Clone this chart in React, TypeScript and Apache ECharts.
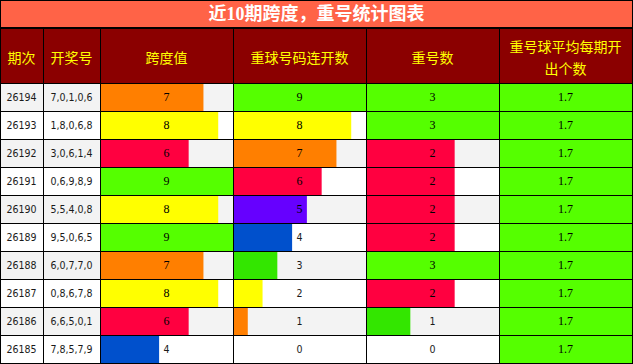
import React, { useEffect, useRef } from 'react';
import * as echarts from 'echarts';

// ---------- data ----------
const titleText = '近10期跨度，重号统计图表';
const headers = ['期次', '开奖号', '跨度值', '重球号码连开数', '重号数', '重号球平均每期开\n出个数'];
const periods = ['26194', '26193', '26192', '26191', '26190', '26189', '26188', '26187', '26186', '26185'];
const draws = ['7,0,1,0,6', '1,8,0,6,8', '3,0,6,1,4', '0,6,9,8,9', '5,5,4,0,8', '9,5,0,6,5', '6,0,7,7,0', '0,8,6,7,8', '6,6,5,0,1', '7,8,5,7,9'];
const spans = [7, 8, 6, 9, 8, 9, 7, 8, 6, 4];
const repeatRuns = [9, 8, 7, 6, 5, 4, 3, 2, 1, 0];
const repeatCounts = [3, 3, 2, 2, 2, 2, 3, 2, 1, 0];
const avgRepeat = [1.7, 1.7, 1.7, 1.7, 1.7, 1.7, 1.7, 1.7, 1.7, 1.7];

// ---------- styles ----------
const GREEN = '#55FF00';
const DGREEN = '#33E600';
const YELLOW = '#FFFF00';
const ORANGE = '#FF7F00';
const RED = '#FF0040';
const PURPLE = '#6600FF';
const BLUE = '#0050CC';
const spanColors = [ORANGE, YELLOW, RED, GREEN, YELLOW, GREEN, ORANGE, YELLOW, RED, BLUE];
const runColors = [GREEN, YELLOW, ORANGE, RED, PURPLE, BLUE, DGREEN, YELLOW, ORANGE, GREEN];
const countColors = [GREEN, GREEN, RED, RED, RED, RED, GREEN, RED, DGREEN, GREEN];
const avgColors = avgRepeat.map(() => GREEN);

const W = 633;
const H = 364;
const COL_X = [0, 43, 100, 233, 366, 499, 632];
const DATA_TOP = 83;
const DATA_H = 280;
const SANS = '"DejaVu Sans Condensed", "DejaVu Sans", sans-serif';
const SANS_SIZE = 10.5;
const SERIF = '"Liberation Serif", serif';
const CJK = '"Noto Sans CJK SC", sans-serif';

export default function App() {
  const ref = useRef<HTMLDivElement>(null);
  useEffect(() => {
    document.body.style.margin = '0';
    if (!ref.current) return;
    const chart = echarts.init(ref.current, null, { renderer: 'svg' });

    const columns: any[] = [
      { kind: 'text', texts: periods, max: 1 },
      { kind: 'text', texts: draws, max: 1 },
      { kind: 'bar', values: spans, colors: spanColors, max: 9 },
      { kind: 'bar', values: repeatRuns, colors: runColors, max: 9 },
      { kind: 'bar', values: repeatCounts, colors: countColors, max: 3 },
      { kind: 'bar', values: avgRepeat, colors: avgColors, max: 1.7 },
    ];

    const grid: any[] = [];
    const xAxis: any[] = [];
    const yAxis: any[] = [];
    const series: any[] = [];

    columns.forEach((col, i) => {
      grid.push({
        left: COL_X[i],
        top: DATA_TOP,
        width: COL_X[i + 1] - COL_X[i],
        height: DATA_H,
        containLabel: false,
      });
      xAxis.push({ type: 'value', gridIndex: i, min: 0, max: col.max, show: false });
      xAxis.push({
        type: 'value', gridIndex: i, min: 0, max: col.max, interval: col.max, z: 10,
        axisLine: { show: false }, axisTick: { show: false }, axisLabel: { show: false },
        splitLine: { show: true, lineStyle: { color: '#000', width: 1 } },
      });
      yAxis.push({
        type: 'category', gridIndex: i, inverse: true, data: periods,
        axisLine: { show: false }, axisTick: { show: false }, axisLabel: { show: false },
        splitLine: { show: false },
        splitArea: { show: true, areaStyle: { color: ['#F3F3F3', '#FFFFFF'] } },
      });
      yAxis.push({
        type: 'category', gridIndex: i, inverse: true, data: periods, z: 10,
        axisLine: { show: false }, axisTick: { show: false }, axisLabel: { show: false },
        splitLine: { show: true, lineStyle: { color: '#000', width: 1 } },
        splitArea: { show: false },
      });

      if (col.kind === 'text') {
        series.push({
          type: 'bar', xAxisIndex: 2 * i, yAxisIndex: 2 * i, silent: true,
          barWidth: '100%', z: 3,
          data: col.texts.map(() => col.max),
          itemStyle: { color: 'rgba(0,0,0,0)' },
          label: {
            show: true, position: 'inside', color: '#1a1a1a', fontFamily: SANS, fontSize: SANS_SIZE,
            formatter: (p: any) => col.texts[p.dataIndex],
          },
        });
      } else {
        series.push({
          type: 'bar', xAxisIndex: 2 * i, yAxisIndex: 2 * i, silent: true,
          barWidth: '100%', barGap: '-100%', z: 2,
          data: col.values.map((v: number, j: number) => ({ value: v, itemStyle: { color: col.colors[j] } })),
        });
        series.push({
          type: 'bar', xAxisIndex: 2 * i, yAxisIndex: 2 * i, silent: true,
          barWidth: '100%', barGap: '-100%', z: 3,
          data: col.values.map((v: number) => {
            const over = v >= col.max / 2;
            return {
              value: col.max,
              label: over
                ? { fontFamily: SERIF, fontSize: 12, color: '#000' }
                : { fontFamily: SANS, fontSize: SANS_SIZE, color: '#1a1a1a' },
            };
          }),
          itemStyle: { color: 'rgba(0,0,0,0)' },
          label: {
            show: true, position: 'inside',
            formatter: (p: any) => String(col.values[p.dataIndex]),
          },
        });
      }
    });

    const graphic: any[] = [
      { type: 'rect', shape: { x: 0, y: 0, width: W, height: 27 }, style: { fill: '#FF6347' }, z: 50 },
      { type: 'rect', shape: { x: 0, y: 27, width: W, height: 2 }, style: { fill: '#000' }, z: 52 },
      { type: 'rect', shape: { x: 0, y: 29, width: W, height: DATA_TOP - 29 }, style: { fill: '#8B0000' }, z: 50 },
      { type: 'rect', shape: { x: 0, y: 0, width: W, height: 1 }, style: { fill: '#000' }, z: 52 },
      { type: 'rect', shape: { x: 0, y: 0, width: 1, height: H }, style: { fill: '#000' }, z: 52 },
      { type: 'rect', shape: { x: 632, y: 0, width: 1, height: H }, style: { fill: '#000' }, z: 52 },
      {
        type: 'text', x: W / 2, y: 14, z: 53,
        style: {
          text: titleText, fill: '#FFFFFF', fontSize: 18, fontWeight: 'bold',
          fontFamily: '"Liberation Serif", "Noto Sans CJK SC", serif',
          align: 'center', verticalAlign: 'middle',
        },
      },
    ];
    for (let i = 1; i < COL_X.length - 1; i++) {
      graphic.push({ type: 'rect', shape: { x: COL_X[i], y: 29, width: 1, height: DATA_TOP - 29 }, style: { fill: '#000' }, z: 52 });
    }
    headers.forEach((h, i) => {
      graphic.push({
        type: 'text', x: (COL_X[i] + COL_X[i + 1]) / 2, y: 57, z: 53,
        style: {
          text: h, fill: '#FFFF00', fontSize: 14, fontFamily: CJK, lineHeight: 22,
          align: 'center', verticalAlign: 'middle',
        },
      });
    });

    chart.setOption({
      animation: false,
      backgroundColor: '#FFFFFF',
      grid, xAxis, yAxis, series, graphic,
    });
    return () => chart.dispose();
  }, []);
  return <div ref={ref} style={{ width: W, height: H }} />;
}
